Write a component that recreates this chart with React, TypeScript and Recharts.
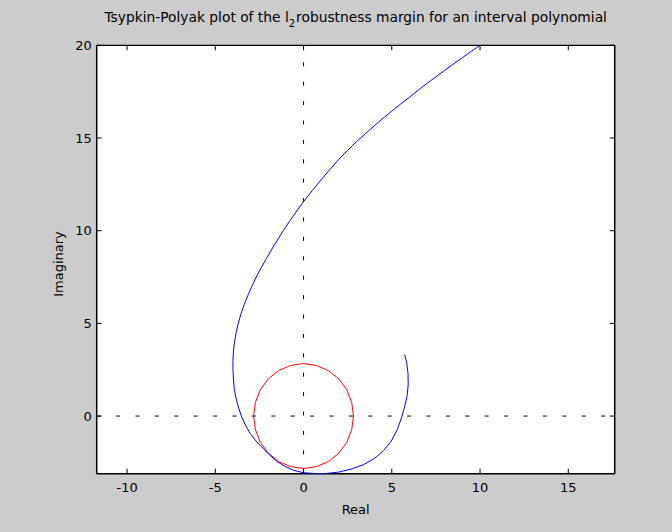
import React from 'react';
import { ScatterChart, Scatter, XAxis, YAxis, ReferenceLine, CartesianGrid } from 'recharts';

// Blue curve (Tsypkin-Polyak locus), in drawing order
const curveReal = [
  5.73, 5.85, 5.92, 5.93, 5.87, 5.73, 5.55, 5.3, 4.97, 4.53, 4.0, 3.4, 2.7, 2.0, 1.3, 0.6, 0.0,
  -0.55, -1.05, -1.5, -1.9, -2.28, -2.68, -3.03, -3.3, -3.52, -3.7, -3.83, -3.93, -3.97, -4.0, -4.0,
  -3.97, -3.91, -3.82, -3.7, -3.55, -3.37, -3.16, -2.93, -2.68, -2.4, -2.1, -1.8, -1.48, -1.15, -0.8,
  -0.43, 0.0, 0.5, 1.0, 1.5, 2.0, 2.5, 3.0, 3.5, 4.0, 4.5, 5.0, 5.5, 6.0, 6.5, 7.0, 7.5, 8.0, 8.5,
  9.0, 9.5, 10.0,
];
const curveImag = [
  3.32, 2.85, 2.3, 1.7, 1.1, 0.5, -0.1, -0.75, -1.35, -1.87, -2.3, -2.62, -2.86, -3.02, -3.1, -3.1, -3.06,
  -2.93, -2.72, -2.45, -2.12, -1.76, -1.36, -0.93, -0.48, 0.0, 0.5, 1.0, 1.5, 2.0, 2.5, 3.0,
  3.5, 4.0, 4.5, 5.0, 5.5, 6.0, 6.5, 7.0, 7.5, 8.0, 8.5, 9.0, 9.5, 10.0, 10.5,
  11.0, 11.57, 12.17, 12.75, 13.31, 13.85, 14.34, 14.8, 15.23, 15.65, 16.06, 16.45, 16.83, 17.2, 17.58, 17.95, 18.3, 18.65, 19.0,
  19.33, 19.67, 20.0,
];

// Red circle (radius ~2.83 around the origin)
const circleReal = [
  2.83, 2.73, 2.45, 2.0, 1.42, 0.73, 0, -0.73, -1.42, -2.0, -2.45, -2.73, -2.83,
  -2.73, -2.45, -2.0, -1.42, -0.73, 0, 0.73, 1.42, 2.0, 2.45, 2.73, 2.83,
];
const circleImag = [
  0, 0.73, 1.42, 2.0, 2.45, 2.73, 2.83, 2.73, 2.45, 2.0, 1.42, 0.73, 0,
  -0.73, -1.42, -2.0, -2.45, -2.73, -2.83, -2.73, -2.45, -2.0, -1.42, -0.73, 0,
];

const xTicks = [-10, -5, 0, 5, 10, 15];
const yTicks = [0, 5, 10, 15, 20];
const xDomain = [-11.72, 17.63];
const yDomain = [-3.11, 20];

const curveData = curveReal.map((x, i) => ({ x, y: curveImag[i] }));
const circleData = circleReal.map((x, i) => ({ x, y: circleImag[i] }));

const W = 672;
const H = 532;
const MARGIN = { top: 45.3, right: 57.3, bottom: 28.3, left: 56.7 };
const X_AXIS_H = 30;
const Y_AXIS_W = 40;
const PLOT_TOP = MARGIN.top;
const PLOT_BOTTOM = H - MARGIN.bottom - X_AXIS_H;
const PLOT_LEFT = MARGIN.left + Y_AXIS_W;
const PLOT_RIGHT = W - MARGIN.right;
const TICK_LEN = 5;

const FONT = '"DejaVu Sans", "Liberation Sans", Arial, sans-serif';
const NoShape = () => null;

function XTick(props: any) {
  const { x, payload } = props;
  return (
    <g>
      <line x1={x} x2={x} y1={PLOT_BOTTOM} y2={PLOT_BOTTOM - TICK_LEN} stroke="#000" strokeWidth={1} />
      <line x1={x} x2={x} y1={PLOT_TOP} y2={PLOT_TOP + TICK_LEN} stroke="#000" strokeWidth={1} />
      <text x={x} y={PLOT_BOTTOM + 18.3} textAnchor="middle" fontFamily={FONT} fontSize={13} fill="#000">
        {payload.value}
      </text>
    </g>
  );
}

function YTick(props: any) {
  const { y, payload } = props;
  return (
    <g>
      <line x1={PLOT_LEFT} x2={PLOT_LEFT + TICK_LEN} y1={y} y2={y} stroke="#000" strokeWidth={1} />
      <line x1={PLOT_RIGHT} x2={PLOT_RIGHT - TICK_LEN} y1={y} y2={y} stroke="#000" strokeWidth={1} />
      <text x={PLOT_LEFT - 5} y={y + 4.7} textAnchor="end" fontFamily={FONT} fontSize={13} fill="#000">
        {payload.value}
      </text>
    </g>
  );
}

export default function App() {
  return (
    <div style={{ position: 'absolute', left: 0, top: 0, width: W, height: H, background: '#cccccc' }}>
      <ScatterChart width={W} height={H} margin={MARGIN}>
        <CartesianGrid fill="#ffffff" horizontal={false} vertical={false} />
        <XAxis
          type="number"
          dataKey="x"
          domain={xDomain}
          ticks={xTicks}
          allowDataOverflow
          height={X_AXIS_H}
          tickSize={0}
          tickMargin={0}
          tickLine={false}
          tick={<XTick />}
          axisLine={{ stroke: '#000', strokeWidth: 1.5 }}
        />
        <YAxis
          type="number"
          dataKey="y"
          domain={yDomain}
          ticks={yTicks}
          allowDataOverflow
          width={Y_AXIS_W}
          tickSize={0}
          tickMargin={0}
          tickLine={false}
          tick={<YTick />}
          axisLine={{ stroke: '#000', strokeWidth: 1.5 }}
        />
        <ReferenceLine x={0} stroke="#000" strokeWidth={1} strokeDasharray="4 15.4" />
        <ReferenceLine y={0} stroke="#000" strokeWidth={1} strokeDasharray="4 15.4" />
        <ReferenceLine x={xDomain[1]} stroke="#000" strokeWidth={1.5} />
        <ReferenceLine y={yDomain[1]} stroke="#000" strokeWidth={1.2} />
        <Scatter
          data={circleData}
          line={{ stroke: '#ff0000', strokeWidth: 1 }}
          lineJointType="linear"
          shape={NoShape}
          fill="none"
          isAnimationActive={false}
          legendType="none"
        />
        <Scatter
          data={curveData}
          line={{ stroke: '#0000ff', strokeWidth: 1 }}
          lineJointType="linear"
          shape={NoShape}
          fill="none"
          isAnimationActive={false}
          legendType="none"
        />
      </ScatterChart>
      <svg width={W} height={H} style={{ position: 'absolute', left: 0, top: 0, pointerEvents: 'none' }}>
        <text x={355.7} y={22} textAnchor="middle" fontFamily={FONT} fontSize={13.8} fill="#000">
          Tsypkin-Polyak plot of the l
          <tspan dy={5} fontSize={10}>2</tspan>
          <tspan dy={-5} dx={1}>robustness margin for an interval polynomial</tspan>
        </text>
        <text x={355.7} y={514} textAnchor="middle" fontFamily={FONT} fontSize={13} fill="#000">
          Real
        </text>
        <text
          x={62.5}
          y={264}
          textAnchor="middle"
          fontFamily={FONT}
          fontSize={13}
          fill="#000"
          transform="rotate(-90, 62.5, 264)"
        >
          Imaginary
        </text>
      </svg>
    </div>
  );
}
